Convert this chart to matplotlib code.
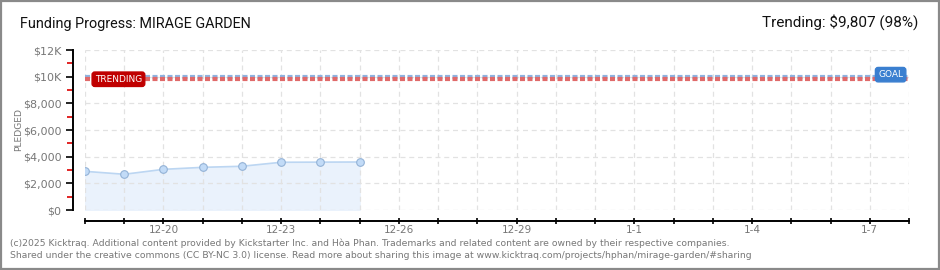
"""
Funding progress chart for MIRAGE GARDEN (Kicktraq style).
"""

import matplotlib
matplotlib.use("Agg")

import matplotlib.pyplot as plt
import matplotlib.dates as mdates
import pandas as pd
from matplotlib.patches import Rectangle
from matplotlib.ticker import MultipleLocator, FuncFormatter


# ==========================================================
# Data
# ==========================================================

dates = pd.date_range("2024-12-18", "2024-12-25", freq="D")
pledged = [2900, 2680, 3050, 3200, 3280, 3580, 3590, 3600]

axis_start = pd.Timestamp("2024-12-18")
axis_end = pd.Timestamp("2025-01-08")

goal = 10000
trending = 9807
trending_pct = 98

title = "Funding Progress: MIRAGE GARDEN"
footer_lines = [
    "(c)2025 Kicktraq. Additional content provided by Kickstarter Inc. and Hòa Phan. "
    "Trademarks and related content are owned by their respective companies.",
    "Shared under the creative commons (CC BY-NC 3.0) license. Read more about sharing "
    "this image at www.kicktraq.com/projects/hphan/mirage-garden/#sharing",
]

narrow = ["Roboto", "DejaVu Sans"]


# ==========================================================
# Figure
# ==========================================================

W, H = 940, 270
fig = plt.figure(figsize=(W / 100, H / 100), dpi=100)

ax = fig.add_axes([85 / W, 1 - 210 / H, (909 - 85) / W, 160 / H])

# border round the whole picture
fig.patches.append(
    Rectangle((0.001, 0.002), 0.998, 0.996, transform=fig.transFigure,
              fill=False, edgecolor="#8a8a8a", linewidth=1.6)
)

grey = "#777777"

# goal / trending lines
ax.axhline(goal, color="#8fb3e0", linewidth=3, linestyle=(0, (1.2, 0.6)), zorder=2)
ax.axhline(trending, color="#e06a6a", linewidth=3, linestyle=(0, (1.2, 0.6)), zorder=2)

# pledged series
ax.fill_between(dates, pledged, 0, color="#eaf2fc", zorder=1)
ax.plot(dates, pledged, color="#bcd6f2", linewidth=1.2, zorder=3)
ax.plot(dates, pledged, linestyle="none", marker="o", markersize=5.5,
        markerfacecolor="#c2dbf7", markeredgecolor="#93b2d6",
        markeredgewidth=0.8, zorder=4)

ax.set_xlim(axis_start, axis_end)
ax.set_ylim(0, 12000)

# grid
ax.xaxis.set_major_locator(mdates.DayLocator())
ax.yaxis.set_major_locator(MultipleLocator(2000))
ax.yaxis.set_minor_locator(MultipleLocator(1000))
ax.grid(True, which="major", color="#e2e2e2", linestyle=(0, (4, 3)),
        linewidth=0.9, zorder=0)


def money(v, pos):
    if v >= 10000:
        return f"${v / 1000:.0f}K"
    return f"${v:,.0f}"


def day_label(v, pos):
    d = mdates.num2date(v)
    diff = (pd.Timestamp(d.date()) - pd.Timestamp("2024-12-20")).days
    if diff % 3 == 0:
        return f"{d.month}-{d.day}"
    return ""


ax.yaxis.set_major_formatter(FuncFormatter(money))
ax.xaxis.set_major_formatter(FuncFormatter(day_label))

for side in ["top", "right"]:
    ax.spines[side].set_visible(False)

ax.spines["left"].set_position(("outward", 9))
ax.spines["bottom"].set_position(("outward", 8))
ax.spines["left"].set_linewidth(1.4)
ax.spines["bottom"].set_linewidth(1.4)

ax.tick_params(axis="y", which="major", length=5, width=1.2,
               labelsize=8, labelcolor=grey, pad=3)
ax.tick_params(axis="y", which="minor", length=4, width=1.2, color="#dd0000")
ax.tick_params(axis="x", which="major", direction="inout", length=5,
               width=1.2, labelsize=7.5, labelcolor=grey, pad=0.5)

# y axis title
fig.text(19 / W, 1 - 129 / H, "PLEDGED", fontsize=6.6, color=grey,
         rotation=90, va="center", ha="center")

# marker boxes
ax.text(mdates.date2num(axis_start) + 0.25, trending, "TRENDING",
        fontsize=6.5, color="white", va="center", ha="left", zorder=6,
        bbox=dict(boxstyle="round,pad=0.3", fc="#c00000", ec="#c00000"))
ax.text(mdates.date2num(axis_end) - 0.15, goal + 150, "GOAL",
        fontsize=6.5, color="white", va="center", ha="right", zorder=6,
        bbox=dict(boxstyle="round,pad=0.3", fc="#3a7fd0", ec="#3a7fd0"))

# titles
fig.text(20 / W, 1 - 24 / H, title, fontsize=10.4, va="center", ha="left",
         color="#111111", family=narrow)
fig.text(918 / W, 1 - 22 / H,
         f"Trending: $" + f"{trending:,} ({trending_pct}%)",
         fontsize=11, va="center", ha="right", color="#111111", family=narrow)

# footer
fig.text(10 / W, 1 - 243 / H, footer_lines[0], fontsize=6.65, color=grey,
         va="center", ha="left")
fig.text(10 / W, 1 - 256 / H, footer_lines[1], fontsize=6.65, color=grey,
         va="center", ha="left")

fig.savefig("out.png", dpi=100)
plt.close(fig)
